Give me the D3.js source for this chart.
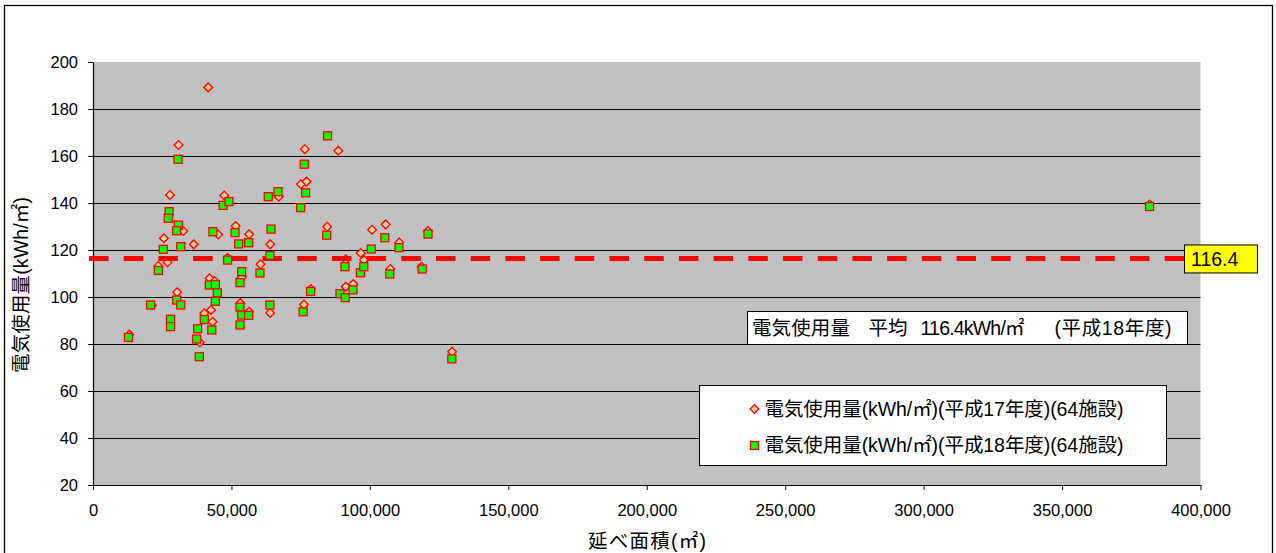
<!DOCTYPE html>
<html>
<head>
<meta charset="utf-8">
<script src="https://cdn.jsdelivr.net/npm/d3@7"></script>
<style>
  html, body { margin: 0; padding: 0; background: #fff; }
  svg { display: block; }
  text { font-family: "Liberation Sans", Arial, "Noto Sans CJK JP", sans-serif; }
  .jp { font-family: "Liberation Sans", "Noto Sans CJK JP", sans-serif; }
</style>
</head>
<body>
<svg id="chart" width="1276" height="553"></svg>
<script>
// 延べ面積 (㎡) と電気使用量 (kWh/㎡)：平成17年度
const areaH17 = [13100, 21300, 23600, 25600, 26900, 27800, 30900, 32600, 30400, 36400,
  41600, 42100, 43900, 42600, 40200, 43200, 38600, 45200, 47400, 51500,
  56400, 53700, 53200, 56400, 48600, 60500, 64000, 64000, 67100, 75100,
  77100, 76500, 76200, 78700, 84600, 88600, 91300, 91300, 94000, 96700,
  97900, 100800, 105700, 107400, 110600, 118700, 121000, 129700, 381600];
const useH17 = [84.0, 96.5, 113.2, 125.0, 114.8, 143.4, 164.7, 128.1, 102.0, 122.4,
  189.2, 108.0, 106.8, 94.5, 93.1, 89.5, 80.6, 126.6, 143.2, 130.2,
  126.7, 108.4, 97.4, 93.7, 116.6, 113.9, 122.4, 93.2, 142.7, 148.0,
  149.1, 162.9, 96.8, 103.4, 129.9, 162.2, 116.0, 104.4, 105.5, 118.7,
  115.7, 128.6, 130.9, 111.9, 123.2, 112.9, 128.1, 76.7, 139.4];

// 延べ面積 (㎡) と電気使用量 (kWh/㎡)：平成18年度
const areaH18 = [12800, 20800, 23600, 25400, 27500, 27200, 28000, 28000, 30700, 30800,
  30200, 31700, 30200, 31700, 37800, 37400, 38400, 40200, 42000, 44200,
  44900, 44200, 42900, 43300, 47000, 49100, 48600, 51300, 52600, 53700,
  53100, 53100, 53700, 53100, 56200, 56200, 60300, 63300, 64300, 63900,
  63900, 66800, 75000, 76300, 76800, 75900, 78600, 84700, 84400, 89200,
  91100, 91000, 93900, 96600, 97800, 100500, 105400, 107200, 110500, 118900,
  121000, 129600, 381600];
const useH18 = [82.8, 96.6, 111.3, 120.3, 136.3, 133.5, 90.5, 87.4, 158.6, 130.6,
  128.2, 121.4, 98.7, 96.6, 86.5, 82.1, 74.6, 90.4, 105.1, 105.3,
  101.8, 98.2, 86.0, 127.8, 139.0, 140.6, 115.7, 127.4, 122.6, 110.8,
  106.1, 95.7, 92.3, 88.1, 123.1, 92.2, 110.2, 142.7, 128.9, 117.7,
  96.6, 144.8, 138.0, 156.5, 144.3, 93.7, 102.4, 168.6, 126.3, 101.4,
  99.7, 112.9, 103.0, 110.3, 112.9, 120.4, 125.2, 109.8, 121.0, 111.9,
  126.8, 73.7, 138.5];

const meanH18 = 116.4;
const xTickValues = [0, 50000, 100000, 150000, 200000, 250000, 300000, 350000, 400000];
const yTickValues = [20, 40, 60, 80, 100, 120, 140, 160, 180, 200];
const legendLabels = ["電気使用量(kWh/㎡)(平成17年度)(64施設)", "電気使用量(kWh/㎡)(平成18年度)(64施設)"];

const svg = d3.select("#chart");
const plot = { left: 93, top: 62, right: 1200.5, bottom: 485 };

const x = d3.scaleLinear().domain([0, 400000]).range([plot.left, plot.right]);
const y = d3.scaleLinear().domain([20, 200]).range([plot.bottom, plot.top]);

// outer chart frame
svg.append("rect").attr("x", 4.5).attr("y", 5.5).attr("width", 1268).attr("height", 560)
  .attr("fill", "#fff").attr("stroke", "#000").attr("stroke-width", 1.3);

// plot background
svg.append("rect").attr("x", plot.left).attr("y", plot.top)
  .attr("width", plot.right - plot.left).attr("height", plot.bottom - plot.top)
  .attr("fill", "#C0C0C0");

// horizontal gridlines
svg.append("g").selectAll("line")
  .data(yTickValues.filter(v => v > 20 && v < 200))
  .join("line")
  .attr("x1", plot.left).attr("x2", plot.right)
  .attr("y1", d => Math.round(y(d)) + 0.5).attr("y2", d => Math.round(y(d)) + 0.5)
  .attr("stroke", "#000").attr("stroke-width", 1);

// y axis
const yAxis = svg.append("g")
  .attr("transform", `translate(${plot.left},0)`)
  .call(d3.axisLeft(y).tickValues(yTickValues).tickSize(5).tickPadding(10).tickSizeOuter(0));
yAxis.select(".domain").attr("stroke", "#000").attr("stroke-width", 1.2);
yAxis.selectAll(".tick line").attr("stroke", "#000");
yAxis.selectAll(".tick text").attr("font-size", 16.5).attr("fill", "#000")
  .attr("font-family", "Liberation Sans, Arial, sans-serif");

// x axis
const xAxis = svg.append("g")
  .attr("transform", `translate(0,${plot.bottom})`)
  .call(d3.axisBottom(x).tickValues(xTickValues).tickFormat(d3.format(",")).tickSize(5).tickPadding(14).tickSizeOuter(0));
xAxis.select(".domain").attr("stroke", "#000").attr("stroke-width", 1.2);
xAxis.selectAll(".tick line").attr("stroke", "#000");
xAxis.selectAll(".tick text").attr("font-size", 16.5).attr("fill", "#000")
  .attr("font-family", "Liberation Sans, Arial, sans-serif");

// axis titles
svg.append("text").attr("class", "jp")
  .attr("transform", "translate(28,285) rotate(-90)")
  .attr("text-anchor", "middle").attr("font-size", 19.5).attr("fill", "#000")
  .attr("textLength", 176).attr("lengthAdjust", "spacing")
  .text("電気使用量(kWh/㎡)");
svg.append("text").attr("class", "jp")
  .attr("x", 647).attr("y", 548)
  .attr("text-anchor", "middle").attr("font-size", 19.5).attr("fill", "#000")
  .attr("textLength", 118).attr("lengthAdjust", "spacing")
  .text("延べ面積(㎡)");

// markers
const diamond = d3.symbol().type(d3.symbolSquare).size(38);
const pointsH17 = areaH17.map((a, i) => [a, useH17[i]]);
const pointsH18 = areaH18.map((a, i) => [a, useH18[i]]);

svg.append("g").selectAll("path")
  .data(pointsH17)
  .join("path")
  .attr("d", diamond)
  .attr("transform", d => `translate(${x(d[0])},${y(d[1])}) rotate(45)`)
  .attr("fill", "#FFCC99").attr("stroke", "#FF0000").attr("stroke-width", 1.3);

// average line (平成18年度)
svg.append("line")
  .attr("x1", plot.left - 4).attr("x2", 1184)
  .attr("y1", y(meanH18)).attr("y2", y(meanH18))
  .attr("stroke", "#FF0000").attr("stroke-width", 5)
  .attr("stroke-dasharray", "19.5,15.2");

svg.append("g").selectAll("rect")
  .data(pointsH18)
  .join("rect")
  .attr("x", d => x(d[0]) - 4).attr("y", d => y(d[1]) - 4)
  .attr("width", 8).attr("height", 8)
  .attr("fill", "#00FF00").attr("stroke", "#FF0000").attr("stroke-width", 1.3);

// average value tag
const tag = svg.append("g").attr("transform", `translate(1184,${y(meanH18) - 14})`);
tag.append("rect").attr("x", 0.5).attr("y", 0.5).attr("width", 73).attr("height", 28)
  .attr("fill", "#FFFF00").attr("stroke", "#000").attr("stroke-width", 1);
tag.append("text").attr("x", 7).attr("y", 21.5).attr("font-size", 19.5).attr("fill", "#000")
  .text(d3.format(".1f")(meanH18));

// annotation box
const note = svg.append("g").attr("transform", "translate(747.5,311.5)");
note.append("rect").attr("width", 440).attr("height", 33)
  .attr("fill", "#fff").attr("stroke", "#000").attr("stroke-width", 1);
const noteParts = [
  { dx: 4.5, t: "電気使用量", w: 98 },
  { dx: 121, t: "平均", w: 39 },
  { dx: 173, t: `${meanH18}kWh/㎡`, w: 104 },
  { dx: 307, t: "(平成18年度)", w: 117 }
];
note.selectAll("text").data(noteParts).join("text").attr("class", "jp")
  .attr("x", d => d.dx).attr("y", 23.5).attr("font-size", 19.5).attr("fill", "#000")
  .attr("textLength", d => d.w).attr("lengthAdjust", "spacing")
  .text(d => d.t);

// legend
const legend = svg.append("g").attr("transform", "translate(699.5,385.5)");
legend.append("rect").attr("width", 467).attr("height", 80)
  .attr("fill", "#fff").attr("stroke", "#000").attr("stroke-width", 1);
legend.append("path")
  .attr("d", diamond)
  .attr("transform", "translate(55,23.5) rotate(45)")
  .attr("fill", "#FFCC99").attr("stroke", "#FF0000").attr("stroke-width", 1.3);
legend.append("rect")
  .attr("x", 51).attr("y", 56).attr("width", 8).attr("height", 8)
  .attr("fill", "#00FF00").attr("stroke", "#FF0000").attr("stroke-width", 1.3);
legend.selectAll("text.lg").data(legendLabels).join("text").attr("class", "jp lg")
  .attr("x", 65).attr("y", (d, i) => 30 + i * 36.5).attr("font-size", 19.5).attr("fill", "#000")
  .attr("textLength", 359).attr("lengthAdjust", "spacing")
  .text(d => d);
</script>
</body>
</html>
